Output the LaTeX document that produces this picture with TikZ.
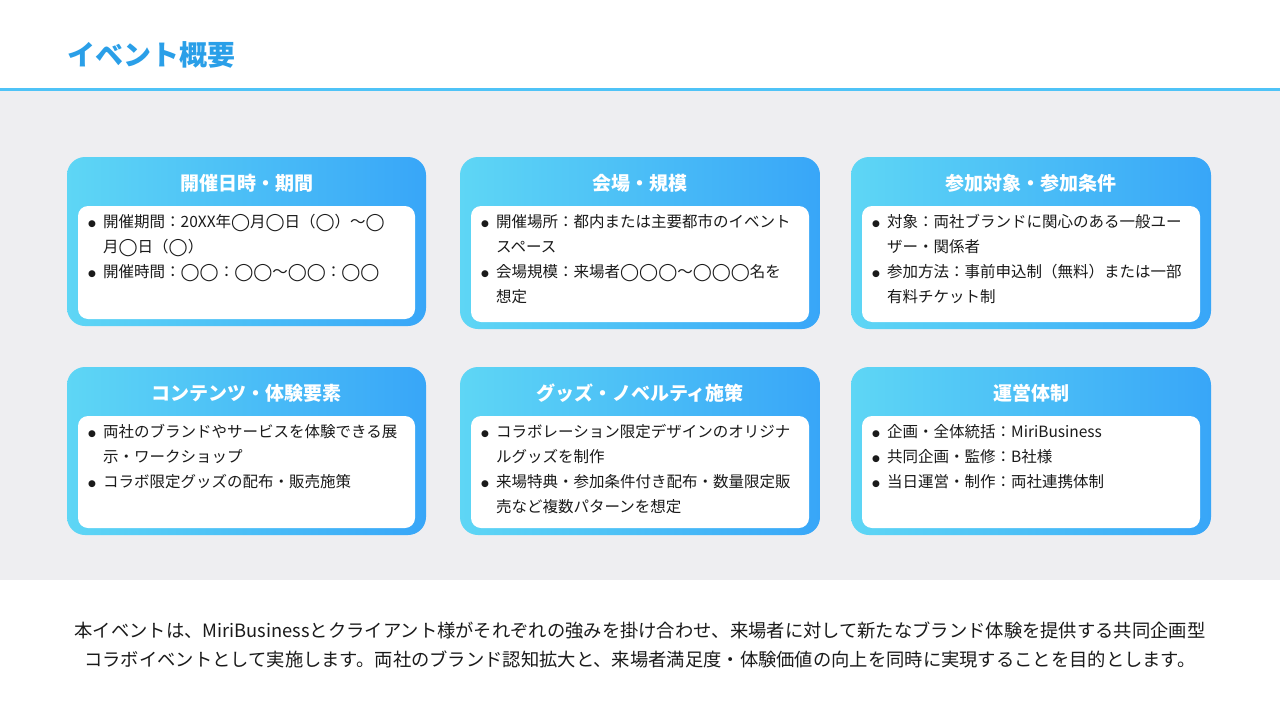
\documentclass[tikz,border=0pt]{standalone}
\usepackage{fontspec}
\setmainfont{Noto Sans CJK JP}
\newfontfamily\dv{DejaVu Sans}
\definecolor{ttl}{HTML}{2A9FE8}
\definecolor{lineb}{HTML}{4FC3F7}
\definecolor{band}{HTML}{EEEEF1}
\definecolor{gl}{HTML}{5ED6F5}
\definecolor{gr}{HTML}{38A6F8}
\definecolor{txt}{HTML}{1A1A1A}
\newcommand{\bi}{\makebox[15pt][l]{\raisebox{1pt}{\dv\fontsize{9}{9}\selectfont ●}}}
\newcommand{\ci}{\hspace*{15pt}}
\newcommand{\oo}{{\dv\fontsize{17}{17}\selectfont ◯}}
\newcommand{\card}[7]{%
  \shade[left color=gl,right color=gr,rounded corners=18pt] (#2,#3) rectangle (#4,#5);
  \fill[white,rounded corners=10pt] (#2+11,#3+49) rectangle (#4-11,#5-7);
  \node[hd] (#1h) at ({(#2+#4)/2},#3+26) {#6};
  \node[body,anchor=north west] (#1b) at (#2+21,#3+57) {#7};
}
\begin{document}
\begin{tikzpicture}[x=1pt,y=-1pt,
  hd/.style={text=white,font=\fontsize{19}{20}\selectfont\bfseries},
  body/.style={text=txt,font=\fontsize{15.5}{25}\selectfont,align=left,inner sep=0pt}]
\useasboundingbox (0,0) rectangle (1280,720);
\fill[white] (0,0) rectangle (1280,720);
\fill[band] (0,91) rectangle (1280,580);
\fill[lineb] (0,88) rectangle (1280,91);
\node[anchor=west,text=ttl,font=\fontsize{28}{30}\selectfont\bfseries] (title) at (64,55) {イベント概要};
\card{a}{67}{157}{426}{326}{開催日時・期間}{\bi 開催期間：20XX年\oo 月\oo 日（\oo）～\oo\\\ci 月\oo 日（\oo）\\\bi 開催時間：\oo\oo：\oo\oo～\oo\oo：\oo\oo}
\card{b}{460}{157}{820}{329}{会場・規模}{\bi 開催場所：都内または主要都市のイベント\\\ci スペース\\\bi 会場規模：来場者\oo\oo\oo～\oo\oo\oo 名を\\\ci 想定}
\card{c}{851}{157}{1211}{329}{参加対象・参加条件}{\bi 対象：両社ブランドに関心のある一般ユー\\\ci ザー・関係者\\\bi 参加方法：事前申込制（無料）または一部\\\ci 有料チケット制}
\card{d}{67}{367}{426}{535}{コンテンツ・体験要素}{\bi 両社のブランドやサービスを体験できる展\\\ci 示・ワークショップ\\\bi コラボ限定グッズの配布・販売施策}
\card{e}{460}{367}{820}{535}{グッズ・ノベルティ施策}{\bi コラボレーション限定デザインのオリジナ\\\ci ルグッズを制作\\\bi 来場特典・参加条件付き配布・数量限定販\\\ci 売など複数パターンを想定}
\card{f}{851}{367}{1211}{535}{運営体制}{\bi 企画・全体統括：MiriBusiness\\\bi 共同企画・監修：B社様\\\bi 当日運営・制作：両社連携体制}
\node[text=txt,font=\fontsize{18.3}{29}\selectfont,align=center] (foot) at (640,645) {本イベントは、MiriBusinessとクライアント様がそれぞれの強みを掛け合わせ、来場者に対して新たなブランド体験を提供する共同企画型\\コラボイベントとして実施します。両社のブランド認知拡大と、来場者満足度・体験価値の向上を同時に実現することを目的とします。};
\end{tikzpicture}
\end{document}
